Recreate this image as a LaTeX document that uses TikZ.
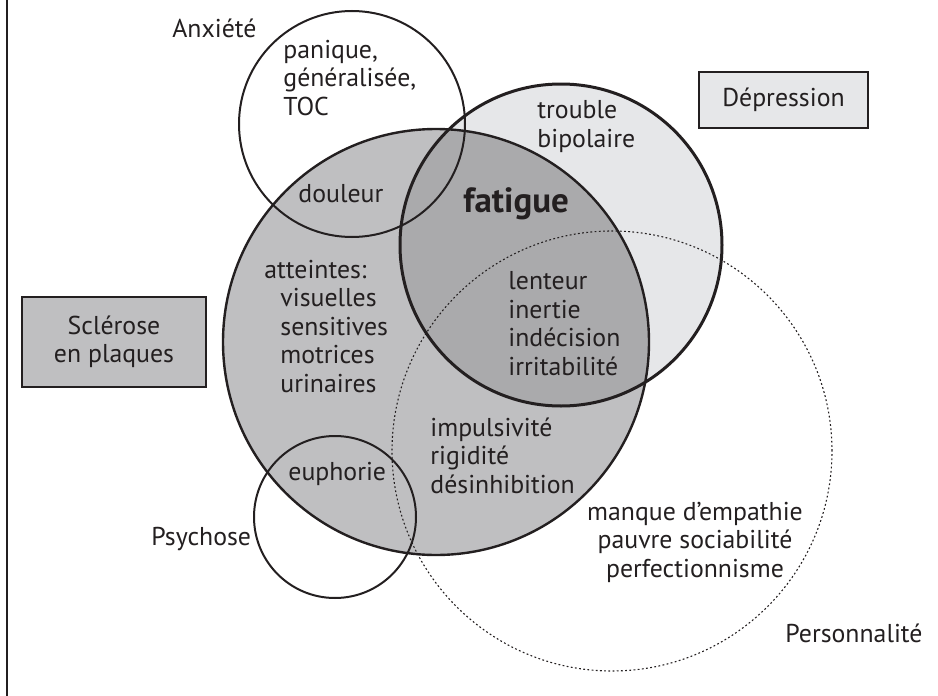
\documentclass[tikz,border=0pt]{standalone}
\usepackage{fontspec}
\setmainfont{PT Sans}
\definecolor{ink}{HTML}{231F20}
\definecolor{msgray}{HTML}{BFBFC1}
\definecolor{depgray}{HTML}{E6E7E9}
\definecolor{bothgray}{HTML}{AAAAAC}
\tikzset{
  lbl/.style={inner sep=0pt, text=ink, align=left, anchor=base west,
    font=\fontsize{12.9}{14.2}\selectfont},
  box/.style={draw=ink, line width=1.2pt, inner sep=0pt, align=center, text=ink,
    font=\fontsize{12.9}{14.2}\selectfont},
  ring/.style={draw=ink, line width=1.2pt},
  dots/.style={draw=ink, line width=0.55pt, dash pattern=on 0.9pt off 1.2pt}
}

\begin{document}
\begin{tikzpicture}[x=0.5pt, y=-0.5pt]
\useasboundingbox (0,0) rectangle (938,696);
\coordinate (anx) at (352,124);
\coordinate (ms) at (436,342);
\coordinate (dep) at (561,245);
\coordinate (pers) at (612,451);
\coordinate (psy) at (335,517);
\fill[depgray] (dep) circle[radius=80.5pt];
\fill[msgray] (ms) circle[radius=106.5pt];
\begin{scope}
  \clip (dep) circle[radius=80.5pt];
  \fill[bothgray] (ms) circle[radius=106.5pt];
\end{scope}
\draw[dots] (pers) circle[radius=110pt];
\draw[ring, line width=1pt] (anx) circle[radius=56.5pt];
\draw[ring, line width=1pt] (psy) circle[radius=40.5pt];
\draw[ring] (ms) circle[radius=106.5pt];
\draw[ring, line width=1.5pt] (dep) circle[radius=80.5pt];
\draw[ink, line width=0.6pt] (7,0) -- (7,696);
\node[box, fill=depgray, minimum width=84.5pt, minimum height=28pt] (depbox) at (783.5,100) {Dépression};
\node[box, fill=msgray, line width=1pt, minimum width=92pt, minimum height=45pt] (msbox) at (114,342) {Sclérose\\en plaques};
\node[lbl] (anxlbl) at (172,37) {Anxiété};
\node[lbl] (anxtxt) at (283,115) {panique,\\généralisée,\\TOC};
\node[lbl] (bipo) at (537,147) {trouble\\bipolaire};
\node[lbl] (doul) at (298,202) {douleur};
\node[lbl, font=\bfseries\fontsize{17.5}{20}\selectfont] (fat) at (463,212) {fatigue};
\node[lbl] (att) at (264,278) {atteintes:};
\node[lbl] (attlist) at (280,392) {visuelles\\sensitives\\motrices\\urinaires};
\node[lbl] (lent) at (508,375) {lenteur\\inertie\\indécision\\irritabilité};
\node[lbl] (impu) at (430,493) {impulsivité\\rigidité\\désinhibition};
\node[lbl] (euph) at (288,480) {euphorie};
\node[lbl] (psylbl) at (151,545) {Psychose};
\node[lbl, anchor=base, align=center] (perstxt) at (695,577) {manque d’empathie\\pauvre sociabilité\\perfectionnisme};
\node[lbl] (perslbl) at (785,642) {Personnalité};
\end{tikzpicture}
\end{document}
